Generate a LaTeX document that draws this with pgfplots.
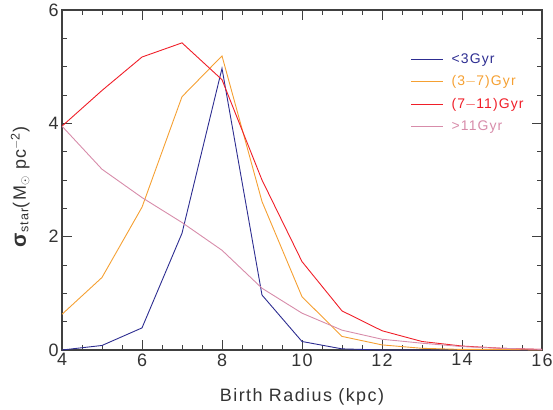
\documentclass[border=0pt]{standalone}
\usepackage{fontspec}
\setmainfont{Liberation Sans}[LetterSpace=8]
\usepackage{pgfplots}
\pgfplotsset{compat=1.18}
\definecolor{cblue}{RGB}{45,45,145}
\definecolor{corange}{RGB}{245,160,50}
\definecolor{cred}{RGB}{240,30,40}
\definecolor{cpink}{RGB}{215,140,170}
\begin{document}
\begin{tikzpicture}
\begin{axis}[
  scale only axis, width=480bp, height=340bp,
  xmin=4, xmax=16, ymin=0, ymax=6,
  xtick={4,6,...,16}, ytick={0,2,4,6},
  minor x tick num=3, minor y tick num=3,
  tick align=inside, major tick length=10bp, minor tick length=5bp,
  axis line style={line width=1.1pt, black!75},
  every tick/.style={black!75, line width=0.8pt},
  tick label style={font=\fontsize{18}{21}\selectfont, text=black!80},
  label style={font=\fontsize{18}{21}\selectfont, text=black!80},
  /pgf/number format/assume math mode=true,
  xlabel={Birth Radius (kpc)},
  ylabel={{\fontsize{21}{24}\selectfont\bfseries σ}\textsubscript{star}(M\textsubscript{$\odot$}\ pc\textsuperscript{$-$2})},
  xlabel style={at={(axis description cs:0.5,-0.138)}, anchor=center},
  ylabel style={at={(axis description cs:-0.087,0.48)}, anchor=center},
  legend style={draw=none, fill=none, at={(0.72,0.884)}, anchor=north west,
    font=\fontsize{14}{16}\selectfont, row sep=7bp},
  legend cell align=left,
  legend image code/.code={\draw[#1, line width=0.9pt] (0bp,0bp) -- (32bp,0bp);},
  every axis plot/.append style={line width=0.9pt},
]
\addplot[cblue] coordinates {(4,0) (5,0.08) (6,0.39) (7,2.06) (8,4.97) (9,0.97) (10,0.15) (11,0.02) (12,0.0) (13,0) (14,0) (15,0) (16,0)};
\addlegendentry{\hspace*{6bp}\textcolor{cblue}{<3Gyr}}
\addplot[corange] coordinates {(4,0.63) (5,1.28) (6,2.52) (7,4.47) (8,5.19) (9,2.62) (10,0.94) (11,0.24) (12,0.09) (13,0.03) (14,0.01) (15,0.01) (16,0)};
\addlegendentry{\hspace*{6bp}\textcolor{corange}{(3$-$7)Gyr}}
\addplot[cred] coordinates {(4,3.95) (5,4.58) (6,5.17) (7,5.42) (8,4.77) (9,3.0) (10,1.56) (11,0.69) (12,0.34) (13,0.15) (14,0.07) (15,0.03) (16,0.01)};
\addlegendentry{\hspace*{6bp}\textcolor{cred}{(7$-$11)Gyr}}
\addplot[cpink] coordinates {(4,3.95) (5,3.19) (6,2.69) (7,2.25) (8,1.76) (9,1.09) (10,0.65) (11,0.35) (12,0.19) (13,0.12) (14,0.06) (15,0.03) (16,0.01)};
\addlegendentry{\hspace*{6bp}\textcolor{cpink}{>11Gyr}}
\end{axis}
\pgfresetboundingbox
\path[use as bounding box] ([shift={(-62bp,-60bp)}]current axis.south west) rectangle ([shift={(11bp,10bp)}]current axis.north east);
\end{tikzpicture}
\end{document}
